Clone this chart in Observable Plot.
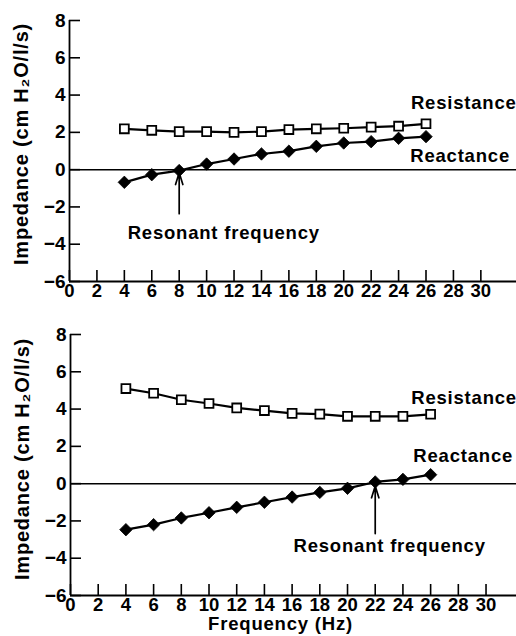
<!DOCTYPE html>
<html><head><meta charset="utf-8">
<script src="https://cdn.jsdelivr.net/npm/d3@7"></script>
<script src="https://cdn.jsdelivr.net/npm/@observablehq/plot@0.6"></script>
<style>
body{margin:0;background:#fff;}
svg{display:block;}
g[aria-label="text"] text{letter-spacing:0.8px;}
</style></head><body><div id="chart"></div>
<script>
const freq = [4, 6, 8, 10, 12, 14, 16, 18, 20, 22, 24, 26];
const topResistance = [2.19, 2.11, 2.04, 2.04, 2.0, 2.04, 2.15, 2.19, 2.22, 2.28, 2.33, 2.46];
const topReactance = [-0.68, -0.27, -0.05, 0.3, 0.57, 0.84, 0.99, 1.25, 1.43, 1.5, 1.68, 1.77];
const bottomResistance = [5.1, 4.85, 4.5, 4.3, 4.06, 3.92, 3.77, 3.73, 3.61, 3.61, 3.61, 3.72];
const bottomReactance = [-2.47, -2.2, -1.84, -1.56, -1.27, -1.0, -0.72, -0.47, -0.25, 0.09, 0.23, 0.48];
const xTicks = [0, 2, 4, 6, 8, 10, 12, 14, 16, 18, 20, 22, 24, 26, 28, 30];
const yTicks = [-6, -4, -2, 0, 2, 4, 6, 8];
const yLabel = "Impedance (cm H₂O/l/s)";
const xLabel = "Frequency (Hz)";
const topLabels = [
  {text: "Resistance", x: 24.9, y: 3.55},
  {text: "Reactance", x: 24.85, y: 0.75},
  {text: "Resonant frequency", x: 4.24, y: -3.39}
];
const topArrow = [{x: 8, y1: -2.36, y2: -0.16}];
const bottomLabels = [
  {text: "Resistance", x: 24.6, y: 4.61},
  {text: "Reactance", x: 24.75, y: 1.5},
  {text: "Resonant frequency", x: 16.1, y: -3.33}
];
const bottomArrow = [{x: 22, y1: -2.68, y2: -0.12}];

const font = "'Liberation Sans', Arial, Helvetica, sans-serif";

function panel({resistance, reactance, labels, arrow, height, marginTop, marginBottom, marginLeft, xMax, withXLabel, yLabelDy}) {
  const res = freq.map((f, i) => ({f, v: resistance[i]}));
  const rea = freq.map((f, i) => ({f, v: reactance[i]}));
  const marks = [
    Plot.ruleY([0], {stroke: "black", strokeWidth: 1.5}),
    Plot.ruleY([-6], {stroke: "black", strokeWidth: 1.8}),
    Plot.ruleX([0], {stroke: "black", strokeWidth: 1.8}),
    Plot.axisX({ticks: xTicks, tickSize: 11, dy: -11, tickFormat: () => "", label: null, strokeWidth: 1.6}),
    Plot.axisY({ticks: yTicks, tickSize: 11, dx: 11, tickFormat: () => "", label: null, strokeWidth: 1.6}),
    Plot.axisX({ticks: xTicks, tickSize: 0, tickPadding: 2, label: null, fontSize: 18.5, fontWeight: "bold"}),
    Plot.axisY({ticks: yTicks, tickSize: 0, tickPadding: 4, label: null, fontSize: 19, fontWeight: "bold"}),
    Plot.line(res, {x: "f", y: "v", stroke: "black", strokeWidth: 2.2}),
    Plot.line(rea, {x: "f", y: "v", stroke: "black", strokeWidth: 2.2}),
    Plot.dot(res, {x: "f", y: "v", symbol: "square", r: 5, fill: "white", stroke: "black", strokeWidth: 1.8}),
    Plot.dot(rea, {x: "f", y: "v", symbol: "diamond2", r: 5.6, fill: "black", stroke: "black", strokeWidth: 0.8}),
    Plot.arrow(arrow, {x1: "x", x2: "x", y1: "y1", y2: "y2", stroke: "black", strokeWidth: 1.7, headLength: 11, headAngle: 34}),
    Plot.text(labels, {x: "x", y: "y", text: "text", textAnchor: "start", fontSize: 18.5, fontWeight: "bold", fill: "black"}),
    Plot.text([yLabel], {frameAnchor: "left", textAnchor: "middle", rotate: -90, dx: -48, dy: yLabelDy, fontSize: 20, fontWeight: "bold", fill: "black"})
  ];
  if (withXLabel) marks.push(Plot.text([xLabel], {frameAnchor: "bottom", textAnchor: "middle", dx: -13, dy: 34.5, fontSize: 18.5, fontWeight: "bold", fill: "black"}));
  return Plot.plot({
    width: 516, height, marginTop, marginBottom, marginLeft, marginRight: 0,
    style: {fontFamily: font, color: "black", background: "white", overflow: "visible"},
    x: {domain: [0, xMax]},
    y: {domain: [-6, 8]},
    marks
  });
}

const chart = document.getElementById("chart");
chart.append(panel({resistance: topResistance, reactance: topReactance, labels: topLabels, arrow: topArrow,
  height: 305, marginTop: 20, marginBottom: 24, marginLeft: 69, xMax: 32.6, withXLabel: false, yLabelDy: -7}));
chart.append(panel({resistance: bottomResistance, reactance: bottomReactance, labels: bottomLabels, arrow: bottomArrow,
  height: 331, marginTop: 29, marginBottom: 41, marginLeft: 70, xMax: 32.2, withXLabel: true, yLabelDy: -6}));
</script></body></html>
